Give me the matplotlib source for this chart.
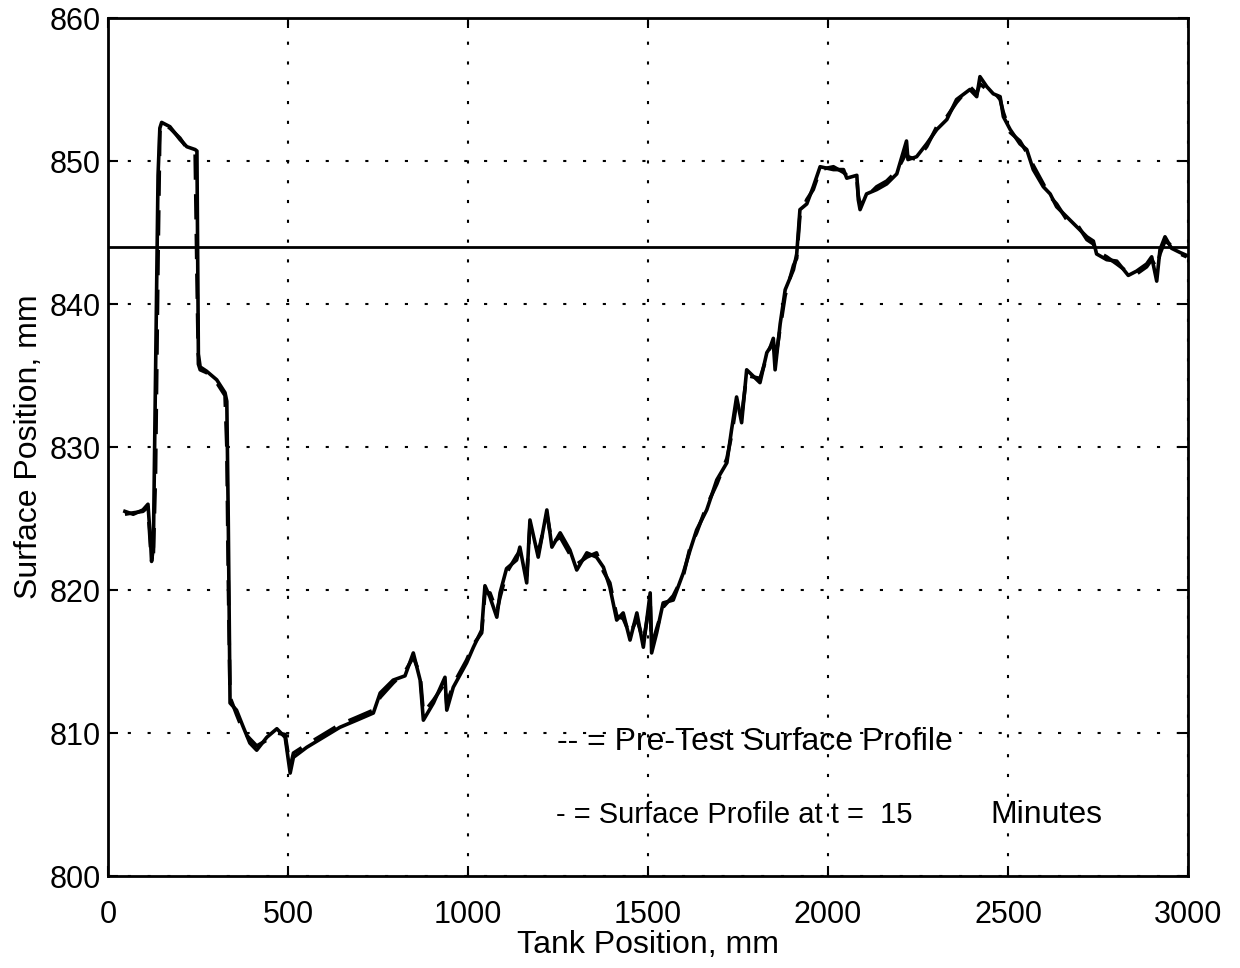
import matplotlib.pyplot as plt

plt.rcParams['font.family'] = ['Liberation Sans', 'DejaVu Sans']

# tank position (mm)
pos = [47, 70, 97, 111, 118, 121, 126, 132, 139, 144, 149, 172, 200, 219, 242,
       247, 251, 256, 274, 302, 325, 330, 334, 339, 357, 376, 394, 413, 441,
       469, 492, 506, 515, 552, 598, 644, 691, 737, 756, 792, 825, 848, 867,
       876, 904, 936, 941, 959, 996, 1015, 1038, 1047, 1061, 1080, 1089, 1107,
       1135, 1144, 1163, 1172, 1195, 1219, 1233, 1256, 1283, 1302, 1330, 1357,
       1376, 1394, 1413, 1431, 1450, 1469, 1487, 1506, 1510, 1524, 1542, 1570,
       1598, 1617, 1635, 1663, 1691, 1719, 1732, 1746, 1760, 1774, 1811, 1830,
       1848, 1853, 1867, 1881, 1904, 1913, 1922, 1941, 1959, 1978, 2015, 2043,
       2052, 2080, 2084, 2089, 2107, 2135, 2163, 2191, 2218, 2222, 2246, 2274,
       2302, 2330, 2357, 2394, 2413, 2422, 2441, 2459, 2478, 2487, 2506, 2533,
       2552, 2570, 2598, 2617, 2635, 2663, 2691, 2719, 2737, 2746, 2774, 2802,
       2834, 2857, 2885, 2899, 2913, 2922, 2936, 2954, 2978, 2996]

# surface profile at t = 15 minutes (solid)
surf_15 = [825.5, 825.3, 825.6, 826.0, 823.5, 822.0, 823.0, 835.0, 849.0, 852.3,
           852.7, 852.4, 851.5, 851.0, 850.8, 850.7, 836.5, 835.6, 835.3, 834.7,
           833.8, 833.2, 825.0, 812.1, 811.6, 810.4, 809.3, 808.8, 809.7, 810.3,
           809.7, 807.2, 808.3, 809.0, 809.7, 810.4, 810.9, 811.4, 812.8, 813.7,
           814.0, 815.6, 813.7, 810.9, 812.1, 813.9, 811.6, 813.2, 814.9, 816.0,
           817.2, 820.3, 819.5, 818.1, 819.8, 821.5, 822.1, 823.0, 820.5, 824.9,
           822.3, 825.6, 823.0, 824.0, 822.8, 821.4, 822.6, 822.3, 821.6, 820.2,
           817.9, 818.4, 816.5, 818.4, 816.0, 819.8, 815.6, 817.0, 819.1, 819.3,
           821.2, 822.8, 824.2, 825.6, 827.7, 828.9, 831.2, 833.5, 831.7, 835.4,
           834.5, 836.6, 837.3, 835.4, 838.6, 841.0, 842.4, 843.5, 846.6, 847.0,
           848.2, 849.6, 849.4, 849.4, 848.8, 849.0, 847.3, 846.6, 847.7, 848.0,
           848.4, 849.1, 851.4, 850.1, 850.3, 851.2, 852.2, 852.9, 854.3, 855.0,
           854.5, 855.9, 855.2, 854.7, 854.5, 853.1, 852.2, 851.2, 850.8, 849.4,
           848.2, 847.7, 846.8, 846.1, 845.4, 844.7, 844.4, 843.5, 843.1, 843.0,
           842.0, 842.3, 842.8, 843.3, 841.6, 843.8, 844.7, 843.9, 843.6, 843.4]

# pre-test surface profile (dashed)
surf_pre = [825.3, 825.4, 825.5, 825.8, 823.0, 822.3, 822.5, 828.0, 843.0, 852.0,
            852.6, 852.3, 851.6, 850.9, 850.6, 842.0, 835.8, 835.4, 835.2, 834.5,
            833.6, 830.0, 821.0, 812.5, 811.3, 810.1, 809.6, 809.1, 809.5, 810.0,
            809.9, 807.6, 808.6, 809.2, 809.9, 810.6, 811.1, 811.6, 812.5, 813.5,
            814.3, 815.3, 814.1, 811.4, 812.3, 813.5, 812.0, 813.4, 815.1, 816.2,
            817.0, 819.8, 819.8, 818.5, 819.5, 821.2, 822.4, 822.7, 821.0, 824.5,
            822.6, 825.3, 823.3, 823.7, 822.5, 821.8, 822.3, 822.6, 821.3, 820.5,
            818.2, 818.0, 816.9, 818.0, 816.4, 819.2, 816.1, 817.3, 818.8, 819.6,
            821.0, 823.0, 824.0, 825.9, 827.4, 829.2, 830.8, 833.1, 832.2, 835.0,
            834.8, 836.3, 837.6, 836.0, 838.3, 840.6, 842.7, 843.2, 846.2, 847.3,
            848.0, 849.4, 849.6, 849.2, 849.0, 848.8, 847.6, 847.0, 847.5, 848.2,
            848.6, 849.3, 850.6, 850.3, 850.1, 851.0, 852.4, 853.1, 854.1, 855.2,
            854.7, 855.4, 855.0, 854.9, 854.3, 853.4, 852.0, 851.4, 850.6, 849.7,
            848.4, 847.5, 847.0, 845.9, 845.6, 844.5, 844.2, 843.7, 843.3, 842.8,
            842.2, 842.1, 842.6, 843.1, 842.5, 843.5, 844.4, 844.1, 843.5, 843.3]

initial_level = 844

fig = plt.figure(figsize=(12.4, 9.68), dpi=100)
ax = fig.add_axes([0.0871, 0.095, 0.8710, 0.8864])

ax.plot(pos, surf_pre, color='black', linestyle='--', linewidth=2.6, dashes=(7, 4))
ax.plot(pos, surf_15, color='black', linestyle='-', linewidth=2.6)
ax.axhline(initial_level, color='black', linewidth=2)

ax.set_xlim(0, 3000)
ax.set_ylim(800, 860)
ax.set_xticks(range(0, 3001, 500))
ax.set_yticks(range(800, 861, 10))
ax.grid(True, color='black', linestyle=(0, (1.5, 8)), linewidth=1.5)
ax.tick_params(direction='in', length=7, width=1.5, labelsize=22,
               top=True, right=True)
ax.tick_params(axis='x', pad=17)
ax.tick_params(axis='y', pad=5)
for s in ax.spines.values():
    s.set_linewidth(2)

ax.set_xlabel('Tank Position, mm', fontsize=23, labelpad=0)
ax.set_ylabel('Surface Position, mm', fontsize=23, labelpad=4)

ax.text(1247, 809.4, '-- = Pre-Test Surface Profile', fontsize=23, va='center')
ax.text(1244, 804.3, '- = Surface Profile at t =  15', fontsize=21, va='center')
ax.text(2450, 804.3, 'Minutes', fontsize=23, va='center')

plt.savefig('out.png', dpi=100)
